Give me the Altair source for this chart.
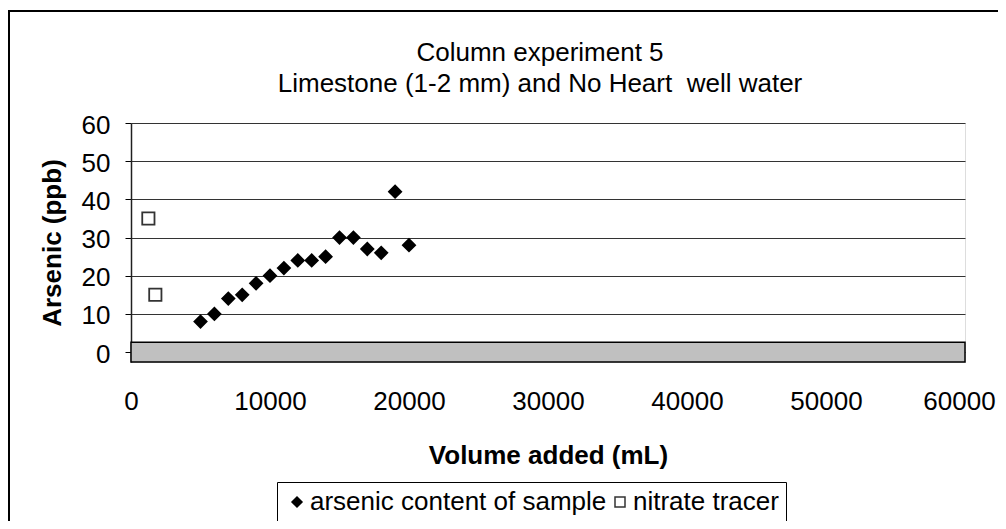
import altair as alt
import pandas as pd

# ---- data ----
arsenic_volume = [5000, 6000, 7000, 8000, 9000, 10000, 11000, 12000,
                  13000, 14000, 15000, 16000, 17000, 18000, 19000, 20000]
arsenic_ppb = [8, 10, 14, 15, 18, 20, 22, 24, 24, 25, 30, 30, 27, 26, 42, 28]
nitrate_volume = [1250, 1750]
nitrate_ppb = [35, 15]
series_names = ["arsenic content of sample", "nitrate tracer"]
x_ticks = [0, 10000, 20000, 30000, 40000, 50000, 60000]
y_ticks = [0, 10, 20, 30, 40, 50, 60]
x_domain = [0, 60000]
y_domain = [-2.6, 60]
floor_band = [-2.6, 2.6]   # grey floor band around the x axis
title_lines = ["Column experiment 5",
               "Limestone (1-2 mm) and No Heart \u00a0well water"]

FONT = "Liberation Sans"
W, H = 834, 239

df = pd.DataFrame({
    "volume": arsenic_volume + nitrate_volume,
    "ppb": arsenic_ppb + nitrate_ppb,
    "series": [series_names[0]] * len(arsenic_volume)
              + [series_names[1]] * len(nitrate_volume),
})
band_df = pd.DataFrame({"x0": [x_domain[0]], "x1": [x_domain[1]],
                        "y0": [floor_band[0]], "y1": [floor_band[1]]})

x_scale = alt.Scale(domain=x_domain, nice=False, zero=False)
y_scale = alt.Scale(domain=y_domain, nice=False, zero=False)

x_axis = alt.Axis(values=x_ticks, grid=False, domain=False, ticks=False, tickSize=0,
                  labelFont=FONT, labelFontSize=26, labelColor="black",
                  labelPadding=26, labelFlush=False, labelOverlap=False,
                  labelOffset={"condition": {"test": "datum.value >= 60000",
                                             "value": -6}, "value": 0},
                  titleFont=FONT, titleFontSize=26, titleFontWeight="bold",
                  titleColor="black", titlePadding=28, format="d")
y_axis = alt.Axis(values=y_ticks, grid=True, gridColor="#333333", gridWidth=1,
                  domain=True, domainColor="#202020", domainWidth=1.5,
                  ticks=True, tickSize=6, tickColor="black", tickWidth=1,
                  labelFont=FONT, labelFontSize=26, labelColor="black",
                  labelPadding=15, labelOffset=2, labelFlush=False,
                  titleFont=FONT, titleFontSize=26, titleFontWeight="bold",
                  titleColor="black", titlePadding=16)

X_TITLE = "Volume added (mL)"
Y_TITLE = "Arsenic (ppb)"

band = alt.Chart(band_df).mark_rect(
    fill="#C0C0C0", stroke="black", strokeWidth=1.5
).encode(
    x=alt.X("x0:Q", scale=x_scale, axis=x_axis, title=X_TITLE),
    x2="x1:Q",
    y=alt.Y("y0:Q", scale=y_scale, axis=y_axis, title=Y_TITLE),
    y2="y1:Q",
)

leg = alt.Legend(
    orient="none", legendX=146, legendY=359, direction="horizontal",
    title=None, labelFont=FONT, labelFontSize=26, labelColor="black",
    labelLimit=600, symbolSize=100, symbolStrokeWidth=1.5,
    strokeColor="black", fillColor="white", padding=7,
    columnPadding=0, labelOffset=0,
)

points = alt.Chart(df).mark_point(size=150, strokeWidth=1.8, opacity=1).encode(
    x=alt.X("volume:Q", scale=x_scale, axis=x_axis, title=X_TITLE),
    y=alt.Y("ppb:Q", scale=y_scale, axis=y_axis, title=Y_TITLE),
    shape=alt.Shape("series:N", scale=alt.Scale(domain=series_names,
                    range=["diamond", "square"]), legend=leg),
    fill=alt.Fill("series:N", scale=alt.Scale(domain=series_names,
                  range=["black", "white"]), legend=leg),
    stroke=alt.Stroke("series:N", scale=alt.Scale(domain=series_names,
                      range=["black", "#333333"]), legend=leg),
)

# chart title as two centred text lines
title_df = pd.DataFrame({"line": title_lines, "row": [0, 1]})
title_style = dict(font=FONT, fontSize=26, color="black",
                   align="center", baseline="middle")
title1 = alt.Chart(title_df).transform_filter(alt.datum.row == 0).mark_text(
    **title_style).encode(text="line:N", x=alt.value(409), y=alt.value(-70))
title2 = alt.Chart(title_df).transform_filter(alt.datum.row == 1).mark_text(
    **title_style).encode(text="line:N", x=alt.value(409), y=alt.value(-39))

# outer chart-area frame (extends past the right/bottom edges of the image)
frame = alt.Chart(pd.DataFrame({"k": [0]})).mark_rect(
    fill="transparent", stroke="black", strokeWidth=2, clip=False
).encode(
    x=alt.value(-122), x2=alt.value(1000),
    y=alt.value(-112), y2=alt.value(600),
)

chart = alt.layer(band, points, title1, title2, frame).properties(
    width=W, height=H,
    autosize=alt.AutoSizeParams(type="none"),
    padding={"left": 123, "top": 115, "right": 33, "bottom": 159},
).configure_view(
    stroke="#808080", strokeWidth=2
).configure(background="white")

chart.save("out.html", embed_options={"renderer": "svg", "actions": False})
